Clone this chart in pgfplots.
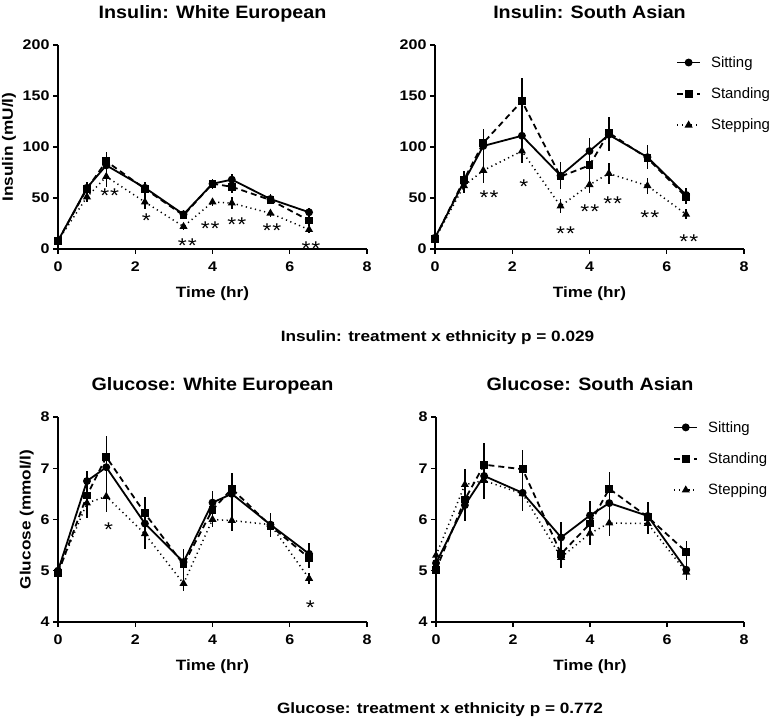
\documentclass[border=0pt]{standalone}
\usepackage{fontspec}
\setmainfont{Liberation Sans}[FakeStretch=1.15]
\newfontfamily\titlefont{Liberation Sans}[FakeStretch=1.1]
\newfontfamily\legendfont{Liberation Sans}
\usepackage{pgfplots}
\pgfplotsset{compat=1.18}
\usepackage{pgfplotstable}

\pgfplotstableread{
t si sie st ste sp spe
0 8 2 8 2 8 2
0.75 60 6 59 6 51 5
1.25 82 10 86 9 71 10
2.25 60 6 59 7 46 7
3.25 34 4 33 4 22 3
4 64 5 64 5 46 4
4.5 68 6 61 6 45 6
5.5 49 5 48 4 35 4
6.5 36 4 28 5 19 3
}\insWE
\pgfplotstableread{
t si sie st ste sp spe
0 11 2 10 2 10 2
0.75 66 8 68 8 62 7
1.25 101 17 104 14 77 12
2.25 111 26 145 23 96 12
3.25 72 13 71 12 42 7
4 96 13 82 18 63 8
4.5 112 16 114 15 74 10
5.5 90 12 89 11 62 8
6.5 53 7 51 7 34 5
}\insSA
\pgfplotstableread{
t si sie st ste sp spe
0 5.00 0.08 4.95 0.08 4.98 0.08
0.75 6.75 0.2 6.47 0.4 6.32 0.3
1.25 7.02 0.6 7.22 0.32 6.45 0.3
2.25 5.92 0.35 6.12 0.32 5.72 0.3
3.25 5.17 0.25 5.12 0.25 4.75 0.15
4 6.33 0.22 6.19 0.25 6.00 0.15
4.5 6.50 0.4 6.60 0.3 5.98 0.2
5.5 5.90 0.22 5.88 0.22 5.90 0.2
6.5 5.33 0.22 5.25 0.2 4.85 0.1
}\gluWE
\pgfplotstableread{
t si sie st ste sp spe
0 5.15 0.1 5.02 0.1 5.30 0.1
0.75 6.28 0.3 6.39 0.4 6.68 0.3
1.25 6.85 0.45 7.07 0.42 6.76 0.3
2.25 6.52 0.35 6.98 0.38 6.50 0.3
3.25 5.65 0.3 5.33 0.25 5.26 0.2
4 6.08 0.28 5.92 0.3 5.73 0.22
4.5 6.32 0.3 6.60 0.32 5.93 0.25
5.5 6.07 0.28 6.05 0.25 5.92 0.2
6.5 5.02 0.2 5.37 0.22 4.97 0.1
}\gluSA

\tikzset{sigstar/.style={font=\fontsize{20}{20}\selectfont, yshift=-4.4bp, inner sep=0pt}}
\newcommand{\dstar}{*\hspace{1bp}*}
\pgfplotsset{
  panel/.style={
    scale only axis, anchor=south west,
    xmin=0, xmax=8, xtick={0,2,4,6,8},
    axis lines=left, axis line style={-, line width=1.4bp},
    tick align=outside, major tick length=5bp,
    tick style={line width=1.4bp, black},
    /pgf/number format/assume math mode=true,
    tick label style={font=\fontsize{14}{14}\selectfont\bfseries},
    xticklabel style={yshift=-4bp},
    xlabel={Time (hr)},
    label style={font=\fontsize{15}{15}\selectfont\bfseries},
    xlabel style={at={(0.5,0)}, anchor=base, yshift=-49bp},
    title style={font=\titlefont\fontsize{18}{18}\selectfont\bfseries, at={(0.5,1)}, anchor=base, yshift=21bp},
    clip=false,
    error bars/y dir=both, error bars/y explicit,
    error bars/error mark=none,
    error bars/error bar style={line width=1.5bp, solid},
    legend style={draw=none, fill=none, anchor=north west,
      font=\legendfont\fontsize{15}{15}\selectfont, row sep=15bp, column sep=8bp, inner sep=0pt,
      nodes={inner sep=2bp}},
    legend cell align=left,
    legend image code/.code={\draw[mark repeat=2, mark phase=2] plot coordinates {(0bp,0bp)(11.5bp,0bp)(23bp,0bp)};},
  },
  sit/.style={black, line width=1.8bp, mark=*, mark size=3bp, mark options={solid}},
  sta/.style={black, line width=1.8bp, dash pattern=on 6bp off 4bp, mark=square*, mark size=3bp, mark options={solid}},
  ste/.style={black, line width=1.5bp, dash pattern=on 1.2bp off 3.5bp, mark=triangle*, mark size=3.2bp, mark options={solid}},
}

\begin{document}
\begin{tikzpicture}[x=1bp,y=1bp]
\path[use as bounding box, fill=white] (0,0) rectangle (780,722);

% Insulin: White European
\begin{axis}[panel, at={(58bp,473bp)}, width=309bp, height=204bp,
  ymin=0, ymax=200, ytick={0,50,100,150,200},
  ylabel={Insulin (mU/l)}, title={Insulin: White European}]
\addplot[sit] table[x=t, y=si, y error=sie] {\insWE};
\addplot[sta] table[x=t, y=st, y error=ste] {\insWE};
\addplot[ste] table[x=t, y=sp, y error=spe] {\insWE};
\node[sigstar] at (axis cs:1.34,57) {\dstar};
\node[sigstar] at (axis cs:2.29,32) {*};
\node[sigstar] at (axis cs:3.35,7.5) {\dstar};
\node[sigstar] at (axis cs:3.94,24) {\dstar};
\node[sigstar] at (axis cs:4.63,28) {\dstar};
\node[sigstar] at (axis cs:5.54,22) {\dstar};
\node[sigstar] at (axis cs:6.55,5) {\dstar};
\end{axis}

% Insulin: South Asian
\begin{axis}[panel, at={(435bp,473bp)}, width=309bp, height=204bp,
  ymin=0, ymax=200, ytick={0,50,100,150,200},
  title={Insulin: South Asian},
  legend style={at={(0.78,0.955)}}]
\addplot[sit] table[x=t, y=si, y error=sie] {\insSA};
\addplot[sta] table[x=t, y=st, y error=ste] {\insSA};
\addplot[ste] table[x=t, y=sp, y error=spe] {\insSA};
\legend{Sitting, Standing, Stepping}
\node[sigstar] at (axis cs:1.40,55) {\dstar};
\node[sigstar] at (axis cs:2.30,65) {*};
\node[sigstar] at (axis cs:3.38,19) {\dstar};
\node[sigstar] at (axis cs:4.01,41) {\dstar};
\node[sigstar] at (axis cs:4.60,49) {\dstar};
\node[sigstar] at (axis cs:5.56,35) {\dstar};
\node[sigstar] at (axis cs:6.57,12) {\dstar};
\end{axis}

% Glucose: White European
\begin{axis}[panel, at={(58bp,100bp)}, width=309bp, height=205bp,
  ymin=4, ymax=8, ytick={4,5,6,7,8},
  ylabel={Glucose (mmol/l)}, title={Glucose: White European}]
\addplot[sit] table[x=t, y=si, y error=sie] {\gluWE};
\addplot[sta] table[x=t, y=st, y error=ste] {\gluWE};
\addplot[ste] table[x=t, y=sp, y error=spe] {\gluWE};
\node[sigstar] at (axis cs:1.31,5.88) {*};
\node[sigstar] at (axis cs:6.53,4.37) {*};
\end{axis}

% Glucose: South Asian
\begin{axis}[panel, at={(436bp,100bp)}, width=308bp, height=205bp,
  ymin=4, ymax=8, ytick={4,5,6,7,8},
  title={Glucose: South Asian},
  legend style={at={(0.77,0.99)}}]
\addplot[sit] table[x=t, y=si, y error=sie] {\gluSA};
\addplot[sta] table[x=t, y=st, y error=ste] {\gluSA};
\addplot[ste] table[x=t, y=sp, y error=spe] {\gluSA};
\legend{Sitting, Standing, Stepping}
\end{axis}

\node[anchor=base, font=\fontsize{15}{15}\selectfont\bfseries] at (437.5,380) {Insulin: treatment x ethnicity p = 0.029};
\node[anchor=base, font=\fontsize{15}{15}\selectfont\bfseries] at (440,8) {Glucose: treatment x ethnicity p = 0.772};
\end{tikzpicture}
\end{document}
